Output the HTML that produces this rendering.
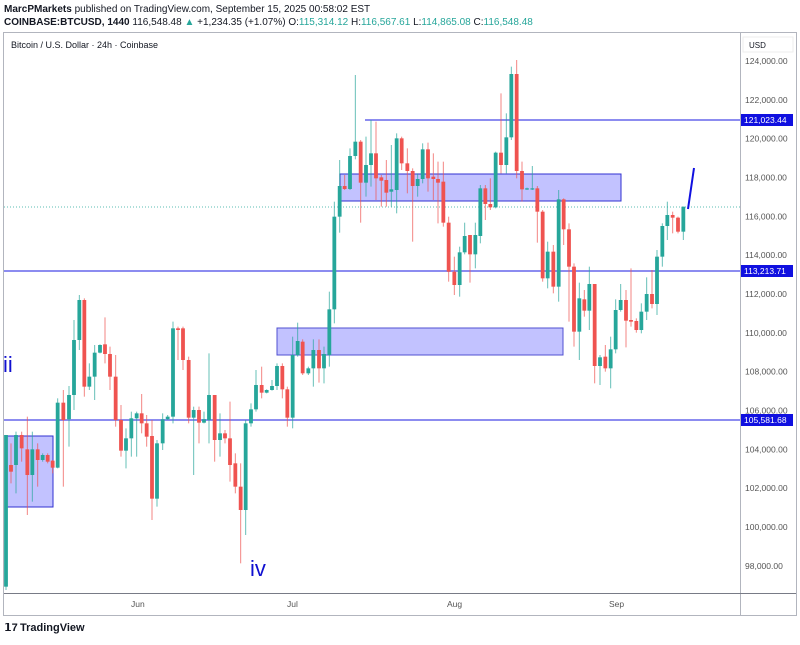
<!DOCTYPE html>
<html><head><meta charset="utf-8"><style>
body{margin:0;background:#fff;width:800px;height:640px;overflow:hidden;font-family:"Liberation Sans",sans-serif;}
</style></head><body>
<svg width="800" height="640" xmlns="http://www.w3.org/2000/svg" font-family="Liberation Sans, sans-serif">
<rect width="800" height="640" fill="#fff"/>
<text x="4" y="12" font-size="10" fill="#131722"><tspan font-weight="bold">MarcPMarkets</tspan> published on TradingView.com, September 15, 2025 00:58:02 EST</text>
<text x="4" y="25" font-size="10" fill="#131722"><tspan font-weight="bold">COINBASE:BTCUSD, 1440</tspan> 116,548.48 <tspan fill="#26a69a">▲</tspan> +1,234.35 (+1.07%) O:<tspan fill="#26a69a">115,314.12</tspan> H:<tspan fill="#26a69a">116,567.61</tspan> L:<tspan fill="#26a69a">114,865.08</tspan> C:<tspan fill="#26a69a">116,548.48</tspan></text>
<rect x="3.5" y="32.5" width="793" height="583" fill="none" stroke="#b2b5be"/>
<line x1="740.5" y1="33" x2="740.5" y2="615" stroke="#b2b5be"/>
<line x1="4" y1="593.5" x2="796" y2="593.5" stroke="#787b86"/>
<text x="11" y="48" font-size="9" fill="#131722">Bitcoin / U.S. Dollar · 24h · Coinbase</text>
<rect x="743" y="37" width="50" height="15" fill="#fff" stroke="#eee"/>
<text x="749" y="48" font-size="8" fill="#131722">USD</text>
<g id="ax" font-size="8.5" fill="#555"></g>
<g font-size="8.5" fill="#555">
<text x="131" y="607">Jun</text><text x="287" y="607">Jul</text><text x="447" y="607">Aug</text><text x="609" y="607">Sep</text>
</g>
<!-- boxes -->
<rect x="5" y="436" width="48" height="71" fill="rgba(120,120,255,0.45)" stroke="#3030d0"/>
<rect x="277" y="328" width="286" height="27" fill="rgba(120,120,255,0.45)" stroke="#5050d0"/>
<rect x="340" y="174" width="281" height="27" fill="rgba(120,120,255,0.45)" stroke="#3030d0"/>
<line x1="365" y1="120" x2="740" y2="120" stroke="#8c8cf0" stroke-width="2"/>
<line x1="4" y1="271" x2="740" y2="271" stroke="#8c8cf0" stroke-width="2"/>
<line x1="4" y1="420" x2="740" y2="420" stroke="#8c8cf0" stroke-width="2"/>
<line x1="4" y1="207" x2="740" y2="207" stroke="#26a69a" stroke-dasharray="1,2" stroke-width="0.8"/>
<g id="c"></g>
<line x1="688" y1="209" x2="694" y2="168" stroke="#1010e0" stroke-width="2"/>
<text x="3" y="372" font-size="22" fill="#1010d0">ii</text>
<text x="250" y="576" font-size="22" fill="#1010d0">iv</text>
<g font-size="8.5" fill="#fff">
<rect x="741" y="114" width="52" height="12" fill="#1010e0"/><text x="744" y="123">121,023.44</text>
<rect x="741" y="265" width="52" height="12" fill="#1010e0"/><text x="744" y="274">113,213.71</text>
<rect x="741" y="414" width="52" height="12" fill="#1010e0"/><text x="744" y="423">105,581.68</text>
</g>
<text x="20" y="631" font-size="11" font-weight="bold" fill="#131722">TradingView</text>
<text x="4" y="631" font-size="11" font-weight="bold" fill="#131722">𝟭7</text>
</svg>
<script>
var ax=document.getElementById('ax'),s='';
for(var p=124000;p>=98000;p-=2000){var y=61+(124000-p)*0.01942;if(Math.abs(y-120)<6||Math.abs(y-271)<6||Math.abs(y-420)<6)continue;
s+='<text x="745" y="'+(y+3)+'">'+p.toLocaleString('en-US')+'.00</text>';}
ax.innerHTML=s;
var z2=[[18,'g',465,920,465,930],[33,'r',555,575,490,610],[48,'g',465,555,455,640],[65,'r',465,505,455,545],[82,'r',508,585,410,705],[97,'g',508,585,455,665],[113,'r',508,540,490,620],[128,'g',525,540,520,545],[143,'r',525,545,520,550],[158,'r',542,563,540,580],[173,'g',368,563,355,565],[190,'r',368,420,330,620],[207,'g',345,418,318,500],[222,'g',180,345,120,390],[238,'g',60,180,45,210],[253,'r',60,320,55,350],[268,'g',290,320,250,330],[284,'g',218,290,195,360],[300,'g',195,218,193,220],[315,'r',193,222,112,250],[330,'r',222,290,200,330],[347,'r',290,420,225,440],[363,'r',420,512,375,530],[378,'g',475,512,445,565],[394,'g',415,475,395,530],[410,'g',400,415,395,530],[425,'r',400,430,342,460],[440,'r',430,470,405,500],[456,'r',468,656,420,720],[471,'g',490,656,480,680],[488,'g',418,490,400,510],[503,'g',410,418,405,420],[519,'g',145,410,125,430],[534,'r',145,150,140,240],[549,'r',145,240,140,270],[566,'r',240,413,230,430],[581,'g',390,413,380,585],[597,'r',390,428,380,490],[612,'g',418,428,395,430],[627,'g',345,420,220,490],[644,'r',345,480,345,545],[660,'g',460,480,400,530],[675,'r',460,475,450,490],[690,'r',475,555,365,605],[706,'r',550,620,520,640],[722,'r',620,690,550,850],[737,'g',430,690,420,765],[753,'g',388,430,370,440],[768,'g',315,388,270,395],[785,'r',315,338,260,355],[800,'g',330,338,328,340],[816,'g',318,330,300,332],[831,'g',258,318,250,330],[847,'r',258,328,250,355],[862,'r',328,413,320,440],[878,'g',225,413,170,445],[893,'g',183,225,128,230]];
var z3=[[8,'r',845,940,838,945],[25,'g',925,940,920,945],[40,'g',870,925,838,980],[57,'r',870,925,838,968],[72,'g',882,925,860,970],[88,'g',748,885,695,920],[103,'g',470,748,425,790],[119,'g',378,470,300,518],[134,'r',378,387,345,390],[150,'g',288,387,265,390],[166,'g',245,288,45,298],[182,'r',245,368,240,488],[198,'g',315,368,230,410],[213,'g',280,315,180,380],[228,'r',280,355,185,420],[244,'r',352,362,345,440],[259,'r',360,398,300,440],[274,'g',388,395,255,440],[290,'g',235,390,220,460],[305,'r',235,310,230,330],[322,'r',310,333,265,400],[338,'r',333,378,325,545],[353,'g',357,378,340,410],[368,'g',268,357,250,370],[384,'r',268,355,248,395],[400,'r',350,357,280,420],[414,'r',357,368,305,490],[430,'r',365,488,305,500],[446,'r',488,635,470,665],[463,'r',635,675,590,705],[479,'g',577,675,560,710],[494,'g',528,577,488,583],[510,'r',525,583,525,668],[526,'g',525,583,488,625],[541,'g',385,528,375,550],[556,'r',385,432,375,480],[571,'r',432,442,355,450],[587,'g',278,442,275,445],[603,'r',278,315,100,340],[619,'g',232,315,160,340],[634,'g',42,232,20,240],[650,'r',42,333,0,355],[666,'r',333,388,305,425],[681,'g',385,388,383,390],[697,'g',385,388,318,390],[712,'r',385,455,378,548],[728,'r',455,655,450,665],[743,'g',575,655,545,685],[760,'r',575,680,555,700],[776,'g',418,680,390,725],[791,'r',418,508,415,555],[807,'r',508,620,490,785],[822,'r',620,815,610,860],[838,'g',715,815,668,900],[853,'r',718,752,690,770],[868,'g',672,752,620,810],[884,'r',672,918,672,970],[900,'g',892,918,885,975],[916,'r',890,925,855,935],[932,'g',868,925,830,985],[947,'g',750,868,718,880],[962,'g',720,750,672,755],[978,'r',720,782,690,862],[993,'r',780,785,625,800],[1009,'r',783,810,775,818],[1024,'g',755,810,730,820],[1040,'g',702,755,652,780],[1056,'r',702,732,630,745],[1071,'g',590,732,570,765],[1087,'g',498,590,490,620],[1102,'g',465,498,425,540],[1118,'r',465,473,455,520],[1134,'r',473,515,470,520],[1150,'g',440,515,440,540]];
var c='';
function add(a,ox,oy){a.forEach(function(d){var x=ox+d[0]/3,col=d[1]=='g'?'#26a69a':'#ef5350';
var t=oy+d[2]/3,b=oy+d[3]/3,h=oy+d[4]/3,l=oy+d[5]/3;if(b-t<1.2)b=t+1.2;
c+='<line x1="'+x+'" x2="'+x+'" y1="'+h+'" y2="'+l+'" stroke="'+col+'" stroke-width="1" opacity="0.7"/>';
c+='<rect x="'+(x-1.9)+'" y="'+t+'" width="3.8" height="'+(b-t)+'" fill="'+col+'"/>';});}
add(z2,0,280);add(z3,300,60);
document.getElementById('c').innerHTML=c;
</script>
</body></html>
